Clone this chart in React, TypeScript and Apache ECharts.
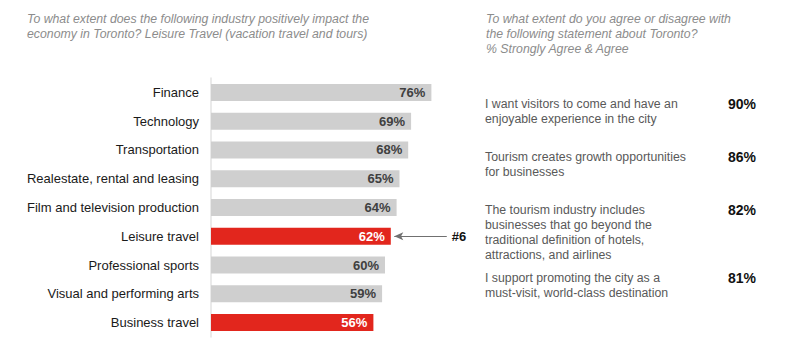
import React, { useEffect, useRef } from "react";
import * as echarts from "echarts";

const categories = [
  "Finance",
  "Technology",
  "Transportation",
  "Realestate, rental and leasing",
  "Film and television production",
  "Leisure travel",
  "Professional sports",
  "Visual and performing arts",
  "Business travel",
];
const values = [76, 69, 68, 65, 64, 62, 60, 59, 56];
const highlighted = ["Leisure travel", "Business travel"];
const rankLabel = "#6";
const rankCategory = "Leisure travel";

const leftTitle = [
  "To what extent does the following industry positively impact the",
  "economy in Toronto? Leisure Travel (vacation travel and tours)",
];
const rightTitle = [
  "To what extent do you agree or disagree with",
  "the following statement about Toronto?",
  "% Strongly Agree & Agree",
];
const statements = [
  ["I want visitors to come and have an", "enjoyable experience in the city"],
  ["Tourism creates growth opportunities", "for businesses"],
  [
    "The tourism industry includes",
    "businesses that go beyond the",
    "traditional definition of hotels,",
    "attractions, and airlines",
  ],
  ["I support promoting the city as a", "must-visit, world-class destination"],
];
const statementValues = [90, 86, 82, 81];
const statementTops = [96, 149, 202, 270];

const FONT = "'Liberation Sans', Arial, sans-serif";
const RED = "#e2261d";
const GRAY = "#cfcfcf";

export default function App() {
  const ref = useRef<HTMLDivElement>(null);
  useEffect(() => {
    if (!ref.current) return;
    const chart = echarts.init(ref.current, null, { renderer: "svg" });

    const graphics: any[] = [];
    graphics.push({
      type: "text",
      left: 27,
      top: 11,
      style: {
        text: leftTitle.join("\n"),
        font: `italic 12.3px ${FONT}`,
        fill: "#8c8c8c",
        lineHeight: 15,
      },
    });
    graphics.push({
      type: "text",
      left: 486,
      top: 11,
      style: {
        text: rightTitle.join("\n"),
        font: `italic 12.3px ${FONT}`,
        fill: "#8c8c8c",
        lineHeight: 15,
      },
    });
    statements.forEach((lines, i) => {
      graphics.push({
        type: "text",
        left: 485,
        top: statementTops[i],
        style: {
          text: lines.join("\n"),
          font: `12.3px ${FONT}`,
          fill: "#595959",
          lineHeight: 15,
        },
      });
      graphics.push({
        type: "text",
        left: 728,
        top: statementTops[i] - 1,
        style: {
          text: statementValues[i] + "%",
          font: `bold 14px ${FONT}`,
          fill: "#111",
          lineHeight: 17,
        },
      });
    });

    chart.setOption({
      animation: false,
      grid: { left: 211, top: 78, width: 290, height: 259, containLabel: false },
      xAxis: {
        type: "value",
        min: 0,
        max: 100,
        show: false,
      },
      yAxis: {
        type: "category",
        data: categories,
        inverse: true,
        axisLine: { show: true, lineStyle: { color: "#e3e3e3", width: 1.5 } },
        axisTick: { show: false },
        axisLabel: {
          margin: 12,
          fontFamily: FONT,
          fontSize: 13,
          color: "#1a1a1a",
        },
      },
      series: [
        {
          type: "bar",
          barWidth: 17,
          data: values.map((v, i) => {
            const hi = highlighted.includes(categories[i]);
            return {
              value: v,
              itemStyle: { color: hi ? RED : GRAY },
              label: { color: hi ? "#ffffff" : "#404040" },
            };
          }),
          label: {
            show: true,
            position: "insideRight",
            distance: 6,
            formatter: "{c}%",
            fontFamily: FONT,
            fontWeight: "bold",
            fontSize: 13,
          },
          markLine: {
            silent: true,
            symbol: ["arrow", "none"],
            symbolSize: [6, 9],
            lineStyle: { color: "#707070", width: 1, type: "solid" },
            label: {
              show: true,
              position: "end",
              formatter: rankLabel,
              fontFamily: FONT,
              fontWeight: "bold",
              fontSize: 13,
              color: "#111",
              distance: 5,
            },
            data: [
              [
                { coord: [63.2, rankCategory] },
                { coord: [81.3, rankCategory] },
              ],
            ],
          },
        },
      ],
      graphic: graphics,
    });
    return () => chart.dispose();
  }, []);
  return (
    <div
      ref={ref}
      style={{ position: "absolute", left: 0, top: 0, width: 800, height: 355 }}
    />
  );
}
